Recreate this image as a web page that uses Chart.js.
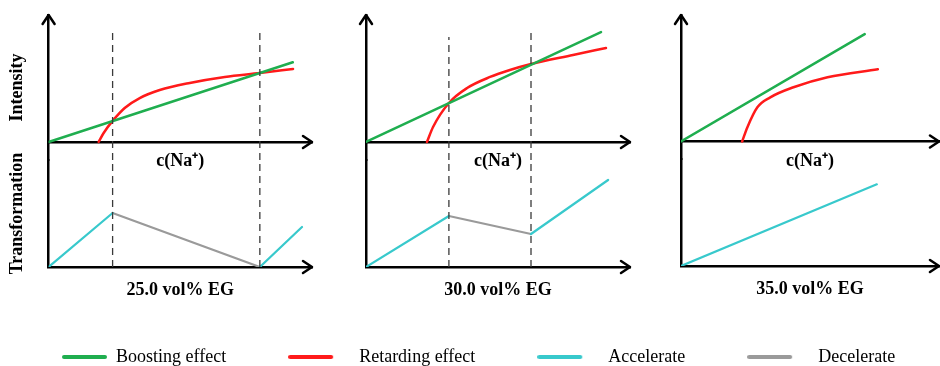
<!DOCTYPE html>
<html>
<head>
<meta charset="utf-8">
<script src="https://cdn.jsdelivr.net/npm/chart.js@4.4.1/dist/chart.umd.min.js"></script>
<style>
  html, body { margin: 0; padding: 0; background: #fff; overflow: hidden; }
  #wrap { position: relative; width: 940px; height: 366px; overflow: hidden; }
  canvas { position: absolute; }
</style>
</head>
<body>
<div id="wrap">
  <canvas id="panel25" width="330" height="310" style="left:0;top:0"></canvas>
  <canvas id="panel30" width="310" height="310" style="left:340px;top:0"></canvas>
  <canvas id="panel35" width="280" height="310" style="left:660px;top:0"></canvas>
  <canvas id="legendChart" width="1020" height="200" style="left:-17px;top:286px"></canvas>
</div>
<script>
// Series shown in the legend
const seriesNames = ['Boosting effect', 'Retarding effect', 'Accelerate', 'Decelerate'];
const seriesColors = ['#1fae4f', '#ff1a1a', '#38c9cc', '#9a9a9a'];

// Scale ranges: upper plot (Intensity) and lower plot (Transformation)
const topRange = [-1.42, 10];
const botRange = [0, 8.56];

// 25.0 vol% EG (x: c(Na+), 0-10)
const boost25 = [{ x: 0, y: 0 }, { x: 9.27, y: 6.28 }];
const retardX25 = [1.9, 2.09, 2.43, 2.89, 3.46, 4.22, 5.36, 6.69, 8.02, 9.28];
const retardY25 = [0, 0.71, 1.66, 2.68, 3.46, 4.09, 4.65, 5.12, 5.43, 5.75];
const accel25 = [{ x: 0, y: 0 }, { x: 2.43, y: 4.32 }, { x: 8.02, y: null }, { x: 8.02, y: 0 }, { x: 9.62, y: 3.2 }];
const decel25 = [{ x: 2.43, y: 4.32 }, { x: 8.02, y: 0 }];
const guideX25 = [2.43, 8.02];
const guideTop25 = [8.6, 8.8];

// 30.0 vol% EG
const boost30 = [{ x: 0, y: 0 }, { x: 8.9, y: 8.66 }];
const retardX30 = [2.31, 2.54, 3.14, 3.83, 4.7, 5.45, 6.25, 7.84, 9.09];
const retardY30 = [0, 1.18, 3.07, 4.25, 5.12, 5.67, 6.14, 6.85, 7.4];
const accel30 = [{ x: 0, y: 0 }, { x: 3.14, y: 4.08 }, { x: 6.25, y: null }, { x: 6.25, y: 2.64 }, { x: 9.17, y: 6.96 }];
const decel30 = [{ x: 3.14, y: 4.08 }, { x: 6.25, y: 2.64 }];
const guideX30 = [3.14, 6.25];
const guideTop30 = [8.27, 8.58];

// 35.0 vol% EG
const boost35 = [{ x: 0, y: 0 }, { x: 7.12, y: 8.49 }];
const retardX35 = [2.37, 2.57, 2.96, 3.46, 4.36, 5.68, 7.63];
const retardY35 = [0, 1.11, 2.7, 3.49, 4.29, 5.08, 5.71];
const accel35 = [{ x: 0, y: 0 }, { x: 7.59, y: 6.56 }];
const decel35 = [];
const guideX35 = [];
const guideTop35 = [];

const serif = "'Liberation Serif', 'Times New Roman', serif";
const boldFont = { family: serif, size: 18, weight: 'bold' };

// Open arrow heads at the axis ends
const axisArrows = {
  id: 'axisArrows',
  afterDraw(chart) {
    const { ctx, chartArea, scales } = chart;
    const midY = scales.yTop.getPixelForValue(0);
    ctx.save();
    ctx.strokeStyle = '#000';
    ctx.lineWidth = 2.5;
    ctx.lineCap = 'round';
    ctx.lineJoin = 'round';
    const right = (x, y) => {
      ctx.beginPath();
      ctx.moveTo(x - 9, y - 6);
      ctx.lineTo(x, y);
      ctx.lineTo(x - 9, y + 6);
      ctx.stroke();
    };
    right(chartArea.right, midY);
    right(chartArea.right, chartArea.bottom);
    ctx.beginPath();
    ctx.moveTo(chartArea.left - 6, chartArea.top + 9);
    ctx.lineTo(chartArea.left, chartArea.top);
    ctx.lineTo(chartArea.left + 6, chartArea.top + 9);
    ctx.stroke();
    ctx.restore();
  },
};

const toPoints = (xs, ys) => xs.map((x, i) => ({ x, y: ys[i] }));

// Vertical dashed guides, split into the top and bottom sub plots
const guidePoints = (xs, starts, ends) => {
  const pts = [];
  xs.forEach((x, i) => {
    if (i > 0) pts.push({ x, y: null });
    pts.push({ x, y: starts[i] }, { x, y: ends[i] });
  });
  return pts;
};

const hiddenTicks = { display: false };
const noGrid = { display: false, drawTicks: false };
const axisBorder = { color: '#000', width: 2.5 };

const makePanel = (id, p) => {
  const line = (data, color, yAxisID, width, extra = {}) => ({
    data,
    yAxisID,
    borderColor: color,
    borderWidth: width,
    borderCapStyle: 'round',
    pointRadius: 0,
    spanGaps: false,
    ...extra,
  });
  const dash = { borderDash: [7, 5], borderCapStyle: 'butt' };
  const topStarts = p.guideX.map(() => topRange[0]);
  const botStarts = p.guideX.map(() => botRange[0]);
  const botEnds = p.guideX.map(() => botRange[1]);

  return new Chart(document.getElementById(id), {
    type: 'line',
    data: {
      datasets: [
        line(guidePoints(p.guideX, topStarts, p.guideTop), '#3a3a3a', 'yTop', 1.3, dash),
        line(guidePoints(p.guideX, botStarts, botEnds), '#3a3a3a', 'yBot', 1.3, dash),
        line(p.boost, seriesColors[0], 'yTop', 2.5),
        line(toPoints(p.retardX, p.retardY), seriesColors[1], 'yTop', 2.5, { cubicInterpolationMode: 'monotone' }),
        line(p.accel, seriesColors[2], 'yBot', 2.2),
        line(p.decel, seriesColors[3], 'yBot', 2.2),
      ],
    },
    options: {
      responsive: false,
      animation: false,
      layout: { padding: p.padding },
      plugins: { legend: { display: false }, tooltip: { enabled: false } },
      scales: {
        x: {
          type: 'linear', min: 0, max: 10,
          ticks: hiddenTicks, grid: noGrid, border: axisBorder,
          title: { display: true, text: p.label, color: '#000', font: boldFont, padding: { top: 13, bottom: 4 } },
        },
        xMid: {
          type: 'linear', position: { yTop: 0 }, min: 0, max: 10,
          ticks: hiddenTicks, grid: noGrid, border: axisBorder,
          title: { display: true, text: 'c(Na⁺)', color: '#000', font: boldFont, padding: { top: 9, bottom: 4 } },
        },
        yTop: {
          type: 'linear', position: 'left', stack: 'panel', stackWeight: 145, weight: 1,
          min: topRange[0], max: topRange[1],
          ticks: hiddenTicks, grid: noGrid, border: axisBorder,
          title: { display: p.yTitles, text: 'Intensity', color: '#000', font: boldFont, padding: { top: 3, bottom: 20 } },
        },
        yBot: {
          type: 'linear', position: 'left', stack: 'panel', stackWeight: 107, weight: 0,
          min: botRange[0], max: botRange[1],
          ticks: hiddenTicks, grid: noGrid, border: axisBorder,
          title: { display: p.yTitles, text: 'Transformation', color: '#000', font: boldFont, padding: { top: 3, bottom: 20 } },
        },
      },
    },
    plugins: [axisArrows],
  });
};

makePanel('panel25', {
  label: '25.0 vol% EG', yTitles: true,
  padding: { left: 4, right: 18, top: 15, bottom: 4.4 },
  boost: boost25, retardX: retardX25, retardY: retardY25, accel: accel25, decel: decel25,
  guideX: guideX25, guideTop: guideTop25,
});

makePanel('panel30', {
  label: '30.0 vol% EG', yTitles: false,
  padding: { left: 26, right: 20, top: 15, bottom: 4.4 },
  boost: boost30, retardX: retardX30, retardY: retardY30, accel: accel30, decel: decel30,
  guideX: guideX30, guideTop: guideTop30,
});

makePanel('panel35', {
  label: '35.0 vol% EG', yTitles: false,
  padding: { left: 21, right: 1, top: 15, bottom: 5.4 },
  boost: boost35, retardX: retardX35, retardY: retardY35, accel: accel35, decel: decel35,
  guideX: guideX35, guideTop: guideTop35,
});

// Legend sample: a 45px line inside a 62px box (first one flush right)
const legendSample = (color, flushRight) => {
  const c = document.createElement('canvas');
  c.width = 62;
  c.height = 8;
  const g = c.getContext('2d');
  g.strokeStyle = color;
  g.lineWidth = 4;
  g.lineCap = 'round';
  const x0 = flushRight ? 19 : 2;
  g.beginPath();
  g.moveTo(x0, 4);
  g.lineTo(x0 + 41, 4);
  g.stroke();
  return c;
};

// Shared legend along the bottom
new Chart(document.getElementById('legendChart'), {
  type: 'line',
  data: {
    datasets: seriesNames.map((name, i) => ({ label: name, data: [], borderColor: seriesColors[i] })),
  },
  options: {
    responsive: false,
    animation: false,
    scales: { x: { display: false }, y: { display: false } },
    plugins: {
      tooltip: { enabled: false },
      legend: {
        position: 'top',
        align: 'start',
        labels: {
          usePointStyle: true,
          pointStyleWidth: 62,
          padding: 62,
          color: '#1a1a1a',
          font: { family: serif, size: 18 },
          generateLabels: (chart) => chart.data.datasets.map((ds, i) => ({
            text: ds.label,
            strokeStyle: ds.borderColor,
            fillStyle: ds.borderColor,
            lineWidth: 0,
            pointStyle: legendSample(ds.borderColor, i === 0),
            hidden: false,
            datasetIndex: i,
          })),
        },
      },
    },
  },
});
</script>
</body>
</html>
